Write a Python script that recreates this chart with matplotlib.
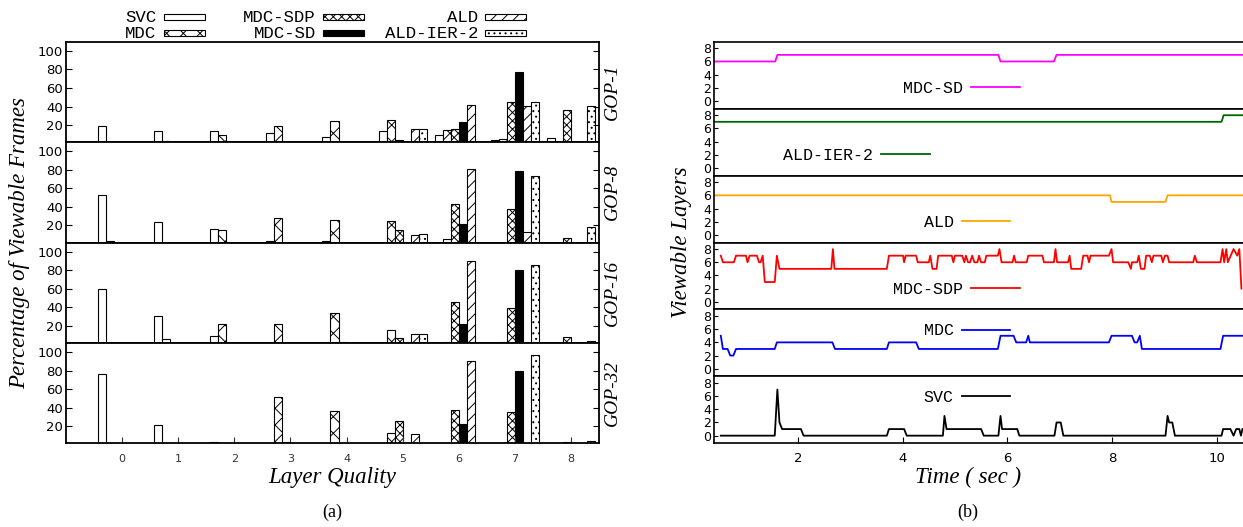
import numpy as np
import matplotlib
matplotlib.use('Agg')
import matplotlib.pyplot as plt
from matplotlib.patches import Rectangle

#################### DATA ####################
layers = np.arange(9)
series_names = ['SVC', 'MDC', 'MDC-SDP', 'MDC-SD', 'ALD', 'ALD-IER-2']
gop_names = ['GOP-1', 'GOP-8', 'GOP-16', 'GOP-32']

# rows: SVC, MDC, MDC-SDP, MDC-SD, ALD, ALD-IER-2 -- columns: layer 0..8 (percent)
gop1 = [[19, 14, 13.5, 11, 7, 13.5, 9, 3.5, 6],
        [0, 3, 9, 19, 24, 25, 14.5, 5, 0],
        [0, 0, 0, 0, 0, 3.5, 15.5, 45, 36],
        [0, 0, 0, 0, 0, 0, 23, 77, 0],
        [0, 0, 0, 0, 0, 15.5, 42, 41, 0],
        [0, 0, 0, 0, 0, 15.5, 0, 45, 41]]
gop8 = [[53, 24, 16, 3.5, 3, 0, 0, 0, 0],
        [3, 0, 15, 28, 26, 25, 5.5, 0, 0],
        [0, 0, 0, 0, 0, 15, 43, 38, 6.5],
        [0, 0, 0, 0, 0, 0, 22, 79, 0],
        [0, 0, 0, 0, 0, 10, 81, 13, 0],
        [0, 0, 0, 0, 0, 11, 0, 73, 18.5]]
gop16 = [[60, 31, 9, 0, 0, 0, 0, 0, 0],
         [0, 5.5, 22, 22, 34, 15, 3, 3, 0],
         [0, 0, 0, 0, 3, 7, 46, 39, 8.5],
         [0, 0, 0, 0, 0, 0, 22, 80, 0],
         [0, 0, 0, 0, 0, 11, 90, 0, 0],
         [0, 0, 0, 0, 0, 11, 0, 86, 4]]
gop32 = [[76, 21, 3.5, 0, 0, 0, 0, 0, 0],
         [0, 0, 0, 52, 36, 13, 0, 0, 0],
         [0, 0, 0, 3, 0, 26, 38, 35, 3],
         [0, 0, 0, 0, 0, 0, 22, 80, 0],
         [0, 0, 0, 0, 0, 11.5, 90, 0, 0],
         [0, 0, 0, 0, 0, 0, 0, 97, 4]]
gop_tables = [gop1, gop8, gop16, gop32]

# viewable layers over time (sec)
mdcsd_t = [0.40, 1.57, 1.61, 5.83, 5.87, 6.89, 6.94, 10.5]
mdcsd_v = [6, 6, 7, 7, 6, 6, 7, 7]

aldier_t = [0.40, 10.09, 10.13, 10.5]
aldier_v = [7, 7, 8, 8]

ald_t = [0.40, 7.96, 7.99, 9.02, 9.06, 10.5]
ald_v = [6, 6, 5, 5, 6, 6]

mdcsdp_t = [0.53, 0.57, 0.78, 0.82, 1.01, 1.04, 1.08, 1.22, 1.26, 1.29, 1.33, 1.37, 1.56, 1.60, 1.65,
            2.64, 2.67, 2.70, 3.70, 3.74, 4.01, 4.03, 4.06, 4.26, 4.29, 4.50, 4.53, 4.57, 4.65, 4.68,
            4.94, 4.97, 5.00, 5.14, 5.18, 5.21, 5.25, 5.29, 5.33, 5.37, 5.43, 5.46, 5.50, 5.57, 5.60,
            5.82, 5.85, 5.89, 6.10, 6.13, 6.16, 6.37, 6.40, 6.67, 6.70, 6.89, 6.92, 6.95, 7.16, 7.19,
            7.22, 7.41, 7.45, 7.53, 7.56, 7.59, 7.94, 7.99, 8.02, 8.31, 8.36, 8.38, 8.48, 8.51, 8.55,
            8.62, 8.65, 8.72, 8.76, 8.79, 8.94, 8.97, 9.01, 9.06, 9.09, 9.55, 9.58, 9.62, 10.07, 10.11,
            10.14, 10.18, 10.21, 10.32, 10.39, 10.43, 10.47]
mdcsdp_v = [7, 6, 6, 7, 7, 6, 7, 7, 6, 6, 7, 3, 3, 7, 5,
            5, 8, 5, 5, 7, 7, 6, 7, 7, 6, 6, 7, 5, 5, 7,
            7, 6, 7, 7, 6, 7, 6, 6, 7, 6, 6, 7, 6, 6, 7,
            7, 8, 6, 6, 7, 6, 6, 7, 7, 6, 6, 8, 6, 6, 7,
            5, 5, 7, 7, 6, 7, 7, 8, 6, 6, 5, 6, 6, 7, 5,
            5, 7, 7, 6, 7, 7, 6, 7, 7, 6, 6, 7, 6, 6, 8,
            6, 8, 6, 8, 7, 8, 2]

mdc_t = [0.53, 0.57, 0.66, 0.71, 0.77, 0.82, 1.56, 1.60, 2.66, 2.71, 3.70, 3.74, 4.26, 4.31, 5.82,
         5.87, 6.12, 6.17, 6.36, 6.40, 6.43, 7.94, 7.99, 8.38, 8.43, 8.48, 8.53, 8.57, 10.07, 10.12, 10.5]
mdc_v = [5, 3, 3, 2, 2, 3, 3, 4, 4, 3, 3, 4, 4, 3, 3,
         5, 5, 4, 4, 5, 4, 4, 5, 5, 4, 4, 5, 3, 3, 5, 5]

svc_t = [0.53, 1.56, 1.61, 1.65, 1.70, 2.06, 2.11, 3.70, 3.74, 4.03, 4.08, 4.77, 4.80, 4.84, 5.50,
         5.55, 5.83, 5.87, 5.90, 6.19, 6.23, 6.90, 6.94, 7.02, 7.07, 9.02, 9.06, 9.09, 9.15, 9.20,
         10.09, 10.12, 10.26, 10.32, 10.37, 10.43, 10.46, 10.49]
svc_v = [0, 0, 7, 2, 1, 1, 0, 0, 1, 1, 0, 0, 3, 1, 1,
         0, 0, 3, 1, 1, 0, 0, 2, 2, 0, 0, 3, 2, 2, 0,
         0, 1, 1, 0, 1, 1, 0, 1]

line_series = [('MDC-SD', mdcsd_t, mdcsd_v, '#ff00ff', (0.578, 0.30)),
               ('ALD-IER-2', aldier_t, aldier_v, '#006400', (0.408, 0.30)),
               ('ALD', ald_t, ald_v, '#ffa500', (0.560, 0.30)),
               ('MDC-SDP', mdcsdp_t, mdcsdp_v, '#ff0000', (0.578, 0.30)),
               ('MDC', mdc_t, mdc_v, '#0000ff', (0.560, 0.68)),
               ('SVC', svc_t, svc_v, '#000000', (0.560, 0.69))]

#################### STYLE ####################
plt.rcParams['hatch.linewidth'] = 0.7
serif = 'Liberation Serif'
mono = 'Liberation Mono'
bar_face = ['white', 'white', 'white', 'black', 'white', 'white']
bar_hatch = ['', 'xx', 'xxxx', '', '///', '...']
W, H = 1243, 527

fig = plt.figure(figsize=(12.43, 5.27), dpi=100)

#################### (a) BAR PANELS ####################
left_x0, left_x1 = 65.7, 599.3
top, bottom = 41.7, 443.3
ph = (bottom - top) / 4
w = 1 / 7
for i, (name, table) in enumerate(zip(gop_names, gop_tables)):
    y1 = top + (i + 1) * ph
    ax = fig.add_axes([left_x0 / W, 1 - y1 / H, (left_x1 - left_x0) / W, ph / H])
    for k in range(6):
        ax.bar(layers + (k - 2.5) * w, table[k], width=w, color=bar_face[k],
               edgecolor='black', linewidth=0.8, hatch=bar_hatch[k])
    ax.set_xlim(-1, 8.5)
    ax.set_ylim(1.6, 110)
    ax.set_yticks([20, 40, 60, 80, 100])
    ax.tick_params(axis='y', direction='in', length=4, right=True, labelsize=9.5, pad=2)
    if i == 3:
        ax.set_xticks(layers)
        ax.tick_params(axis='x', direction='in', length=4, labelsize=8, colors='#333333', pad=8)
    else:
        ax.set_xticks([])
    for s in ax.spines.values():
        s.set_linewidth(1.3)
    ax.text(1.025, 0.5, name, transform=ax.transAxes, rotation=90, ha='center', va='center',
            family=serif, style='italic', fontsize=14)

fig.text(20 / W, 1 - 243 / H, 'Percentage of Viewable Frames', rotation=90, ha='center', va='center',
         family=serif, style='italic', fontsize=16.5)
fig.text(332 / W, 1 - 477 / H, 'Layer Quality', ha='center', va='center',
         family=serif, style='italic', fontsize=16.5)
fig.text(332 / W, 1 - 512 / H, '(a)', ha='center', va='center', family=serif, fontsize=13)

# legend of (a), gnuplot style: label then key box
leg_cols = [(156, 164), (316, 323), (478, 485)]
leg_rows = [17, 33]
for k, name in enumerate(series_names):
    col, row = leg_cols[k // 2], leg_rows[k % 2]
    fig.text(col[0] / W, 1 - row / H, name, ha='right', va='center', family=mono, fontsize=12.5)
    fig.add_artist(Rectangle((col[1] / W, 1 - (row + 3) / H), 41 / W, 6 / H, transform=fig.transFigure,
                             facecolor=bar_face[k], edgecolor='black', linewidth=0.8, hatch=bar_hatch[k]))

#################### (b) LINE PANELS ####################
right_x0 = 714
lh = (bottom - top) / 6
for i, (name, t, v, color, anchor) in enumerate(line_series):
    y1 = top + (i + 1) * lh
    ax = fig.add_axes([right_x0 / W, 1 - y1 / H, (W - right_x0) / W, lh / H])
    ln, = ax.plot(t, v, color=color, linewidth=1.3)
    ax.set_xlim(0.40, 10.5)
    ax.set_ylim(-1.16, 9.0)
    ax.set_yticks([0, 2, 4, 6, 8])
    ax.tick_params(axis='y', direction='in', length=3, labelsize=9, pad=2)
    ax.spines['right'].set_visible(False)
    for s in ax.spines.values():
        s.set_linewidth(1.2)
    if i == 5:
        ax.set_xticks([2, 4, 6, 8, 10])
        ax.tick_params(axis='x', direction='in', length=4, labelsize=9.5, pad=6)
    else:
        ax.set_xticks([])
    ax.legend([ln], [name], loc='center right', bbox_to_anchor=anchor, frameon=False, markerfirst=False,
              handlelength=2.9, handletextpad=0.5, borderpad=0, borderaxespad=0,
              prop={'family': mono, 'size': 12})

fig.text(682 / W, 1 - 242 / H, 'Viewable Layers', rotation=90, ha='center', va='center',
         family=serif, style='italic', fontsize=16.5)
fig.text(968 / W, 1 - 477 / H, 'Time ( sec )', ha='center', va='center',
         family=serif, style='italic', fontsize=16.5)
fig.text(968 / W, 1 - 512 / H, '(b)', ha='center', va='center', family=serif, fontsize=13)

fig.savefig('out.png', dpi=100)
